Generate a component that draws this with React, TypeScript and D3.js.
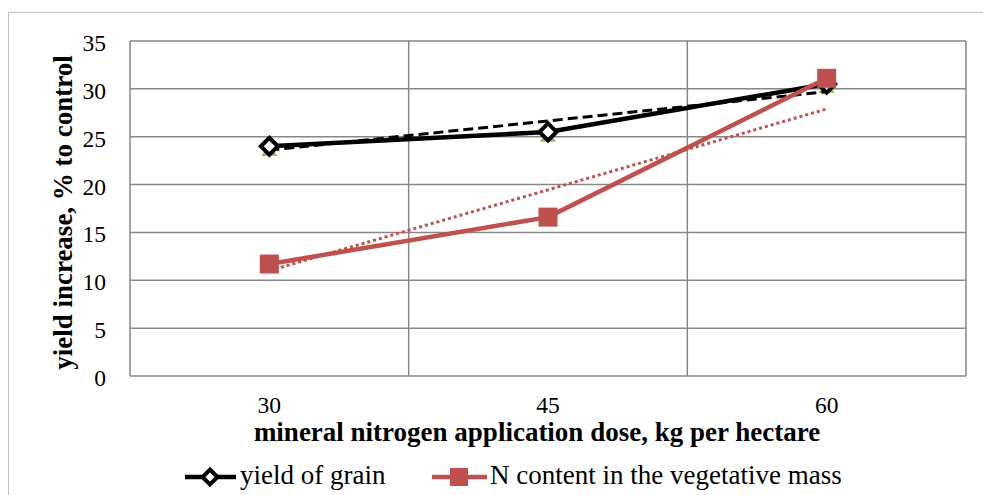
import React from "react";
import * as d3 from "d3";

const categories = ["30", "45", "60"];
const grainValues = [24.0, 25.5, 30.5];
const nContentValues = [11.7, 16.6, 31.1];
const hiddenValues = [23.6, 25.1, 30.2];
const grainTrend = [23.6, 29.7];
const nContentTrend = [11.0, 27.9];
const yTicks = [0, 5, 10, 15, 20, 25, 30, 35];

const W = 983;
const H = 495;
const M = { left: 130, top: 41, right: 966, bottom: 376 };
const RED = "#C0504D";
const GREEN = "#9BBB59";
const GRID = "#878787";
const FONT = "'Liberation Serif', 'Times New Roman', serif";
const FS = 27;
const TICK_FS = 23.5;

export default function App() {
  const x = d3.scaleBand().domain(categories).range([M.left, M.right]);
  const y = d3.scaleLinear().domain([0, 35]).range([M.bottom, M.top]);
  const cx = (c: string) => (x(c) as number) + x.bandwidth() / 2;
  const line = d3
    .line<number>()
    .x((_, i) => cx(categories[i]))
    .y((d) => y(d));
  const first = categories[0];
  const last = categories[categories.length - 1];
  const trendPath = (t: number[]) =>
    `M${cx(first)},${y(t[0])}L${cx(last)},${y(t[1])}`;
  const boundaries = [M.left, ...categories.map((c) => (x(c) as number) + x.bandwidth())];

  const diamond = (px: number, py: number, r: number, key: string | number) => (
    <path
      key={key}
      d={`M${px},${py - r}L${px + r},${py}L${px},${py + r}L${px - r},${py}Z`}
      fill="#fff"
      stroke="#000"
      strokeWidth={4}
    />
  );
  const square = (px: number, py: number, s: number, key: string | number) => (
    <rect key={key} x={px - s / 2} y={py - s / 2} width={s} height={s} fill={RED} />
  );

  return (
    <div style={{ position: "absolute", left: 0, top: 0 }}>
      <svg width={W} height={H} style={{ display: "block", background: "#fff" }} fontFamily={FONT}>
        <rect x={8.5} y={12.5} width={1000} height={600} fill="#fff" stroke="#BFBFBF" strokeWidth={1} />
        {/* horizontal grid */}
        {yTicks.map((t) => (
          <line key={"h" + t} x1={M.left} x2={M.right} y1={y(t)} y2={y(t)} stroke={GRID} strokeWidth={1.5} />
        ))}
        {/* vertical grid */}
        {boundaries.map((b, i) => (
          <line key={"v" + i} x1={b} x2={b} y1={M.top} y2={M.bottom} stroke={GRID} strokeWidth={1.5} />
        ))}
        {/* y tick labels */}
        {yTicks.map((t) => (
          <text key={"yt" + t} x={106} y={y(t) + 10} textAnchor="end" fontSize={TICK_FS} fill="#000">
            {t}
          </text>
        ))}
        {/* x tick labels */}
        {categories.map((c) => (
          <text key={"xt" + c} x={cx(c)} y={413} textAnchor="middle" fontSize={TICK_FS} fill="#000">
            {c}
          </text>
        ))}
        <text x={537} y={441} textAnchor="middle" fontSize={FS} fontWeight="bold" fill="#000">
          mineral nitrogen application dose, kg per hectare
        </text>
        <text
          transform={`translate(72,${(M.top + M.bottom) / 2 + 4}) rotate(-90)`}
          textAnchor="middle"
          fontSize={FS}
          fontWeight="bold"
          fill="#000"
        >
          yield increase, % to control
        </text>

        {/* hidden green series */}
        {hiddenValues.map((v, i) => {
          const px = cx(categories[i]);
          const py = y(v);
          return (
            <path key={"g" + i} d={`M${px},${py - 7}L${px + 8},${py + 6}L${px - 8},${py + 6}Z`} fill={GREEN} />
          );
        })}

        {/* trend lines */}
        <path d={trendPath(grainTrend)} fill="none" stroke="#000" strokeWidth={3} strokeDasharray="10,5" />
        <path d={trendPath(nContentTrend)} fill="none" stroke={RED} strokeWidth={3} strokeDasharray="3,3" />

        {/* grain series */}
        <path d={line(grainValues) as string} fill="none" stroke="#000" strokeWidth={4.5} strokeLinejoin="round" />
        {grainValues.map((v, i) => diamond(cx(categories[i]), y(v), 8.5, "d" + i))}

        {/* N content series */}
        <path d={line(nContentValues) as string} fill="none" stroke={RED} strokeWidth={4.5} strokeLinejoin="round" />
        {nContentValues.map((v, i) => square(cx(categories[i]), y(v), 19, "s" + i))}

        {/* legend */}
        <line x1={185} x2={236} y1={477} y2={477} stroke="#000" strokeWidth={4.5} />
        {diamond(210, 477, 7.5, "ld")}
        <text x={240} y={484} fontSize={FS} fill="#000">
          yield of grain
        </text>
        <line x1={432} x2={487} y1={477} y2={477} stroke={RED} strokeWidth={4.5} />
        {square(459, 477, 18, "ls")}
        <text x={490} y={484} fontSize={FS} fill="#000">
          N content in the vegetative mass
        </text>
      </svg>
    </div>
  );
}
